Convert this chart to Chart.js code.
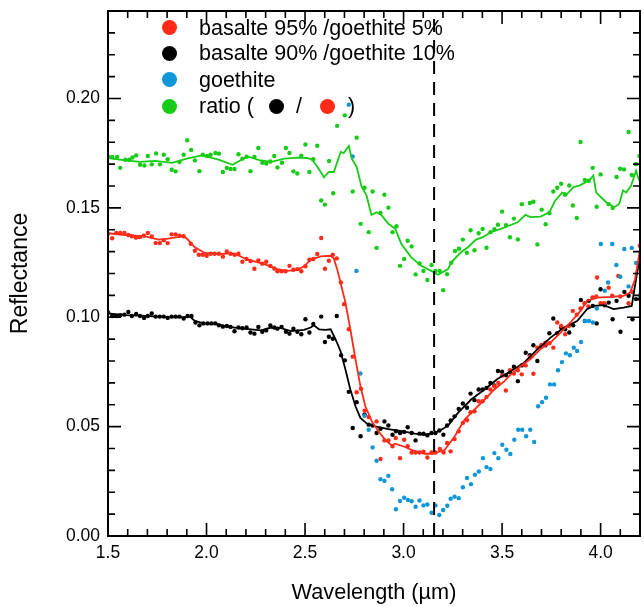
<!DOCTYPE html>
<html>
<head>
<meta charset="utf-8">
<script src="https://cdn.jsdelivr.net/npm/chart.js@4.4.1/dist/chart.umd.min.js"></script>
<style>
  body { margin: 0; background: #fff; }
  #wrap { position: relative; width: 644px; height: 606px; }
  #legend { position: absolute; left: 0; top: 0; font-family: "Liberation Sans", Arial, Helvetica, sans-serif; font-size: 21.5px; color: #000; }
  .row { position: absolute; left: 199px; white-space: nowrap; line-height: 26px; height: 26px; }
  .dot { position: absolute; width: 15px; height: 15px; border-radius: 50%; }
</style>
</head>
<body>
<div id="wrap">
  <canvas id="chart"></canvas>
  <div id="legend">
    <span class="dot" style="left:162px; top:20px; background:#ff2a17"></span>
    <span class="row" style="top:15px">basalte 95% /goethite 5%</span>
    <span class="dot" style="left:162px; top:46px; background:#000"></span>
    <span class="row" style="top:40px">basalte 90% /goethite 10%</span>
    <span class="dot" style="left:162px; top:72px; background:#0f96d8"></span>
    <span class="row" style="top:67px">goethite</span>
    <span class="dot" style="left:162px; top:99px; background:#16cc16"></span>
    <span class="row" style="top:93px">ratio (</span>
    <span class="dot" style="left:269px; top:99px; background:#000"></span>
    <span class="row" style="top:93px; left:296px">/</span>
    <span class="dot" style="left:320px; top:99px; background:#ff2a17"></span>
    <span class="row" style="top:93px; left:348px">)</span>
  </div>
</div>
<script>
// [wavelength (um), reflectance]
const redDots = [[1.500,0.1382],[1.521,0.1361],[1.542,0.1385],[1.562,0.1385],[1.583,0.1385],[1.603,0.1376],[1.621,0.137],[1.642,0.1364],[1.662,0.1367],[1.682,0.1373],[1.702,0.1385],[1.722,0.1369],[1.742,0.1339],[1.763,0.1339],[1.783,0.1352],[1.803,0.1339],[1.823,0.1379],[1.843,0.1379],[1.863,0.1373],[1.884,0.137],[1.920,0.1336],[1.941,0.1304],[1.961,0.1286],[1.981,0.1286],[2.001,0.1281],[2.021,0.129],[2.041,0.129],[2.063,0.129],[2.083,0.1277],[2.103,0.1301],[2.122,0.129],[2.142,0.1286],[2.162,0.129],[2.182,0.1254],[2.203,0.1266],[2.223,0.1257],[2.243,0.1222],[2.263,0.126],[2.283,0.1245],[2.303,0.1254],[2.324,0.1234],[2.344,0.1223],[2.360,0.121],[2.381,0.121],[2.401,0.121],[2.421,0.1235],[2.441,0.1217],[2.461,0.122],[2.481,0.121],[2.502,0.1233],[2.522,0.1263],[2.542,0.1266],[2.562,0.1289],[2.582,0.1362],[2.601,0.1222],[2.621,0.1258],[2.641,0.1286],[2.661,0.1269],[2.682,0.1159],[2.698,0.106],[2.722,0.0945],[2.742,0.082],[2.762,0.0657],[2.784,0.0673],[2.802,0.0573],[2.823,0.0544],[2.863,0.0524],[2.883,0.0352],[2.903,0.0437],[2.923,0.0437],[2.944,0.041],[2.960,0.0448],[2.982,0.0356],[3.003,0.044],[3.021,0.041],[3.041,0.0382],[3.061,0.0382],[3.081,0.0382],[3.101,0.0385],[3.121,0.0359],[3.142,0.0382],[3.162,0.0382],[3.184,0.0398],[3.203,0.0382],[3.221,0.0425],[3.239,0.0387],[3.259,0.0443],[3.280,0.0479],[3.301,0.0517],[3.322,0.0529],[3.340,0.0566],[3.360,0.057],[3.381,0.0616],[3.401,0.0616],[3.421,0.0636],[3.441,0.067],[3.461,0.0685],[3.481,0.07],[3.501,0.0734],[3.519,0.0665],[3.540,0.0758],[3.560,0.0743],[3.580,0.0758],[3.600,0.0739],[3.620,0.078],[3.641,0.082],[3.659,0.0742],[3.679,0.0861],[3.700,0.0873],[3.720,0.0884],[3.740,0.0881],[3.760,0.0861],[3.780,0.0976],[3.800,0.096],[3.820,0.0922],[3.839,0.096],[3.859,0.1029],[3.879,0.1012],[3.898,0.104],[3.918,0.1064],[3.938,0.1049],[3.959,0.109],[3.978,0.1095],[3.982,0.1182],[4.000,0.1064],[4.018,0.1064],[4.041,0.1135],[4.059,0.1098],[4.090,0.1189],[4.100,0.1095],[4.142,0.1064],[4.163,0.1116],[4.199,0.1327]];
const redLine = [[1.500,0.1384],[1.588,0.1376],[1.689,0.137],[1.756,0.1355],[1.798,0.1358],[1.874,0.137],[1.899,0.1361],[1.941,0.132],[1.991,0.1294],[2.058,0.1289],[2.126,0.1292],[2.159,0.1284],[2.209,0.1263],[2.293,0.1243],[2.360,0.122],[2.411,0.1212],[2.461,0.1217],[2.495,0.1233],[2.529,0.1263],[2.579,0.1278],[2.630,0.1281],[2.646,0.1269],[2.663,0.122],[2.680,0.1159],[2.705,0.1067],[2.730,0.0945],[2.756,0.0807],[2.781,0.0685],[2.806,0.0593],[2.839,0.0524],[2.873,0.0478],[2.907,0.044],[2.940,0.0414],[2.957,0.0422],[3.008,0.0407],[3.058,0.0387],[3.108,0.0376],[3.150,0.0376],[3.209,0.0394],[3.260,0.0456],[3.310,0.0532],[3.360,0.0578],[3.411,0.0624],[3.461,0.067],[3.512,0.0708],[3.545,0.0739],[3.595,0.0777],[3.646,0.081],[3.696,0.0856],[3.746,0.0884],[3.797,0.093],[3.847,0.0976],[3.898,0.1029],[3.931,0.1075],[3.981,0.109],[4.049,0.1093],[4.116,0.1098],[4.150,0.1113],[4.175,0.1174],[4.192,0.1266],[4.200,0.1312]];

const blackDots = [[1.500,0.1022],[1.521,0.1006],[1.541,0.1006],[1.562,0.1009],[1.583,0.1012],[1.603,0.1024],[1.621,0.1006],[1.643,0.1015],[1.663,0.1006],[1.683,0.0997],[1.702,0.1006],[1.722,0.1017],[1.742,0.1003],[1.763,0.1003],[1.783,0.1003],[1.803,0.0997],[1.823,0.1003],[1.843,0.1003],[1.863,0.1003],[1.884,0.0994],[1.904,0.1006],[1.924,0.1006],[1.944,0.0976],[1.964,0.0963],[1.984,0.0972],[2.005,0.0972],[2.025,0.0972],[2.045,0.0972],[2.063,0.0963],[2.083,0.0957],[2.103,0.096],[2.122,0.0956],[2.142,0.0936],[2.162,0.0953],[2.182,0.095],[2.203,0.0953],[2.223,0.093],[2.243,0.0925],[2.263,0.0956],[2.283,0.0934],[2.303,0.094],[2.324,0.0963],[2.344,0.0953],[2.360,0.0948],[2.381,0.0956],[2.403,0.0934],[2.421,0.0925],[2.441,0.0948],[2.461,0.0934],[2.481,0.0922],[2.502,0.0991],[2.522,0.093],[2.542,0.0969],[2.582,0.1003],[2.601,0.0887],[2.621,0.0911],[2.641,0.0902],[2.661,0.1006],[2.683,0.0826],[2.702,0.0803],[2.722,0.0659],[2.742,0.0494],[2.762,0.0612],[2.782,0.0456],[2.802,0.0555],[2.823,0.0509],[2.843,0.0505],[2.863,0.0471],[2.883,0.049],[2.903,0.0524],[2.923,0.0505],[2.944,0.0463],[2.962,0.0479],[2.982,0.0471],[3.003,0.0476],[3.021,0.0497],[3.041,0.0471],[3.061,0.0437],[3.081,0.0468],[3.101,0.0468],[3.121,0.046],[3.142,0.0471],[3.162,0.0471],[3.182,0.0482],[3.202,0.0463],[3.221,0.0505],[3.239,0.0528],[3.259,0.0547],[3.280,0.0581],[3.301,0.0606],[3.322,0.0586],[3.340,0.0651],[3.360,0.0621],[3.381,0.067],[3.401,0.067],[3.421,0.0677],[3.441,0.07],[3.461,0.0688],[3.479,0.0754],[3.500,0.0751],[3.520,0.0735],[3.540,0.0749],[3.560,0.0774],[3.580,0.0708],[3.600,0.078],[3.620,0.0838],[3.641,0.0826],[3.659,0.0872],[3.679,0.08],[3.700,0.0866],[3.720,0.0872],[3.740,0.0927],[3.760,0.0994],[3.780,0.0927],[3.800,0.0953],[3.820,0.0945],[3.841,0.093],[3.861,0.0963],[3.900,0.1079],[3.920,0.0983],[3.940,0.1075],[3.960,0.1052],[3.980,0.0972],[4.000,0.1128],[4.021,0.1055],[4.041,0.1067],[4.061,0.0991],[4.081,0.1075],[4.101,0.0934],[4.121,0.1116],[4.142,0.1098],[4.162,0.0991],[4.180,0.1083],[4.200,0.1083]];
const blackLine = [[1.500,0.1018],[1.588,0.101],[1.689,0.1006],[1.789,0.1001],[1.874,0.0999],[1.915,0.1003],[1.941,0.0983],[1.991,0.0971],[2.041,0.0972],[2.108,0.0957],[2.159,0.095],[2.226,0.0945],[2.277,0.094],[2.327,0.0953],[2.378,0.095],[2.428,0.0937],[2.495,0.0942],[2.529,0.0953],[2.545,0.0963],[2.571,0.0945],[2.604,0.0942],[2.630,0.0945],[2.655,0.0899],[2.680,0.0846],[2.705,0.0761],[2.730,0.067],[2.756,0.0593],[2.781,0.054],[2.814,0.0514],[2.856,0.0501],[2.923,0.0489],[2.990,0.0479],[3.058,0.0468],[3.108,0.0463],[3.159,0.0471],[3.192,0.0486],[3.226,0.0505],[3.276,0.0563],[3.343,0.0624],[3.411,0.067],[3.478,0.0719],[3.545,0.0754],[3.612,0.0792],[3.679,0.0853],[3.746,0.0907],[3.814,0.0953],[3.881,0.0983],[3.931,0.1037],[3.965,0.1052],[4.016,0.1055],[4.066,0.1037],[4.116,0.1044],[4.158,0.1052],[4.183,0.119],[4.200,0.1274]];

const goethiteDots = [[2.722,0.1972],[2.742,0.1735],[2.761,0.1212],[2.781,0.0743],[2.802,0.055],[2.823,0.0486],[2.843,0.0405],[2.863,0.0344],[2.883,0.026],[2.903,0.0252],[2.923,0.0275],[2.942,0.0214],[2.961,0.0122],[2.982,0.016],[3.003,0.0175],[3.022,0.0165],[3.041,0.0159],[3.061,0.0134],[3.081,0.0162],[3.101,0.014],[3.121,0.0144],[3.142,0.0106],[3.162,0.014],[3.181,0.0096],[3.201,0.0119],[3.222,0.0138],[3.239,0.017],[3.259,0.018],[3.280,0.0173],[3.301,0.0223],[3.322,0.0265],[3.342,0.0237],[3.362,0.028],[3.382,0.0295],[3.403,0.0356],[3.421,0.0315],[3.441,0.0306],[3.461,0.0379],[3.481,0.0356],[3.501,0.0417],[3.522,0.0394],[3.542,0.0375],[3.562,0.044],[3.582,0.0486],[3.602,0.0486],[3.622,0.0456],[3.643,0.0486],[3.663,0.043],[3.683,0.0593],[3.703,0.0612],[3.723,0.0632],[3.743,0.0693],[3.764,0.0693],[3.784,0.0758],[3.804,0.0795],[3.824,0.0835],[3.844,0.0826],[3.864,0.0861],[3.881,0.0846],[3.901,0.0887],[3.921,0.0983],[3.941,0.0983],[3.961,0.0976],[3.981,0.104],[4.001,0.1335],[4.021,0.1121],[4.038,0.1159],[4.059,0.1335],[4.080,0.1239],[4.100,0.1185],[4.120,0.1312],[4.142,0.1141],[4.158,0.1317],[4.180,0.1248],[4.199,0.1101]];

const ratioDots = [[1.500,0.1735],[1.521,0.1733],[1.546,0.1733],[1.562,0.1683],[1.588,0.172],[1.608,0.172],[1.624,0.173],[1.643,0.174],[1.663,0.1697],[1.685,0.1694],[1.702,0.1737],[1.722,0.1699],[1.744,0.1749],[1.764,0.1699],[1.783,0.1743],[1.803,0.1722],[1.823,0.1674],[1.843,0.1667],[1.863,0.171],[1.884,0.1743],[1.902,0.1809],[1.922,0.1765],[1.941,0.1717],[1.964,0.1668],[1.981,0.1743],[2.003,0.1737],[2.021,0.1743],[2.045,0.1751],[2.063,0.1748],[2.083,0.1664],[2.103,0.1682],[2.122,0.1678],[2.142,0.1678],[2.162,0.1745],[2.182,0.1725],[2.203,0.1734],[2.223,0.1668],[2.243,0.1733],[2.263,0.1774],[2.283,0.1706],[2.303,0.1703],[2.324,0.1712],[2.344,0.1737],[2.360,0.1685],[2.383,0.1706],[2.403,0.1774],[2.421,0.1751],[2.441,0.1667],[2.461,0.1657],[2.481,0.1739],[2.502,0.179],[2.522,0.1664],[2.542,0.1722],[2.562,0.1784],[2.582,0.1534],[2.601,0.1515],[2.622,0.1714],[2.643,0.1567],[2.663,0.1875],[2.702,0.1923],[2.742,0.1575],[2.762,0.1821],[2.782,0.1427],[2.802,0.1592],[2.823,0.1389],[2.843,0.1575],[2.863,0.1317],[2.883,0.1477],[2.903,0.156],[2.923,0.1501],[2.944,0.1389],[2.964,0.1416],[2.982,0.1235],[3.003,0.1266],[3.021,0.135],[3.041,0.1324],[3.061,0.1196],[3.081,0.1246],[3.101,0.1212],[3.121,0.117],[3.142,0.1239],[3.162,0.1212],[3.184,0.1212],[3.201,0.1124],[3.221,0.1197],[3.242,0.1249],[3.261,0.1303],[3.281,0.1313],[3.301,0.1355],[3.321,0.1295],[3.340,0.1398],[3.360,0.1306],[3.381,0.1384],[3.401,0.1404],[3.421,0.1318],[3.441,0.1389],[3.461,0.1402],[3.479,0.1423],[3.500,0.1483],[3.520,0.1421],[3.540,0.1366],[3.560,0.1451],[3.580,0.1356],[3.600,0.1517],[3.641,0.1522],[3.659,0.1528],[3.679,0.1333],[3.701,0.1492],[3.721,0.1425],[3.740,0.1476],[3.760,0.1575],[3.780,0.1592],[3.800,0.161],[3.820,0.156],[3.841,0.1602],[3.859,0.1511],[3.879,0.1454],[3.898,0.1801],[3.920,0.1628],[3.940,0.1624],[3.960,0.1683],[3.980,0.1505],[4.000,0.1653],[4.041,0.1517],[4.061,0.15],[4.081,0.1641],[4.099,0.1679],[4.119,0.1676],[4.142,0.1847],[4.158,0.165],[4.180,0.17],[4.197,0.1737]];
const ratioLine = [[1.500,0.1728],[1.588,0.1717],[1.663,0.171],[1.739,0.1715],[1.825,0.1706],[1.900,0.1725],[1.976,0.174],[2.057,0.1722],[2.132,0.1697],[2.208,0.1735],[2.268,0.1718],[2.329,0.171],[2.395,0.1725],[2.460,0.173],[2.510,0.1728],[2.535,0.172],[2.561,0.169],[2.596,0.164],[2.621,0.1664],[2.646,0.1664],[2.681,0.1756],[2.696,0.175],[2.722,0.1783],[2.737,0.1725],[2.762,0.1687],[2.787,0.1597],[2.812,0.1557],[2.837,0.1468],[2.863,0.148],[2.888,0.1467],[2.923,0.1427],[2.958,0.1404],[2.989,0.1335],[3.039,0.1274],[3.090,0.1235],[3.140,0.1212],[3.175,0.1194],[3.226,0.122],[3.241,0.125],[3.291,0.1297],[3.327,0.132],[3.367,0.1355],[3.402,0.1366],[3.443,0.1389],[3.493,0.1404],[3.528,0.1416],[3.579,0.1434],[3.619,0.1468],[3.644,0.1458],[3.695,0.146],[3.740,0.148],[3.770,0.1534],[3.805,0.157],[3.830,0.1563],[3.862,0.1595],[3.892,0.1602],[3.942,0.1625],[3.963,0.1648],[3.978,0.157],[4.028,0.1526],[4.069,0.1503],[4.094,0.1518],[4.114,0.158],[4.130,0.157],[4.155,0.1602],[4.180,0.167],[4.195,0.1625]];

const bandCenter = 3.155;
const xMin = 1.5, xMax = 4.2, xStep = 0.1;
const yMin = 0, yMax = 0.24, yStep = 0.01;

const RED = "#ff2a17", BLACK = "#000000", BLUE = "#0f96d8", GREEN = "#16cc16";

function pts(arr) { return arr.map(p => ({x: p[0], y: p[1]})); }

function dots(arr, color, order) {
    return {data: pts(arr), showLine: false, pointRadius: 2.2, pointBorderWidth: 0,
            pointBackgroundColor: color, borderColor: color, order: order};
}
function line(arr, color, order) {
    return {data: pts(arr), showLine: true, pointRadius: 0, borderColor: color,
            borderWidth: 1.8, tension: 0, order: order};
}

// inward ticks on all four sides plus the frame
const frameTicks = {
    id: "frameTicks",
    afterDatasetsDraw(chart) {
        const {ctx, chartArea: a, scales: {x, y}} = chart;
        ctx.save();
        ctx.strokeStyle = "#000";
        ctx.lineWidth = 1.6;
        ctx.beginPath();
        x.ticks.forEach(t => {
            const px = x.getPixelForValue(t.value);
            const len = t.label ? 13 : 7;
            ctx.moveTo(px, a.bottom); ctx.lineTo(px, a.bottom - len);
            ctx.moveTo(px, a.top); ctx.lineTo(px, a.top + len);
        });
        y.ticks.forEach(t => {
            const py = y.getPixelForValue(t.value);
            const len = t.label ? 13 : 7;
            ctx.moveTo(a.left, py); ctx.lineTo(a.left + len, py);
            ctx.moveTo(a.right, py); ctx.lineTo(a.right - len, py);
        });
        ctx.stroke();
        ctx.lineWidth = 2;
        ctx.strokeRect(a.left, a.top, a.right - a.left, a.bottom - a.top);
        ctx.restore();
    }
};

const font = "'Liberation Sans', Arial, Helvetica, sans-serif";

new Chart(document.getElementById("chart"), {
    type: "scatter",
    data: {
        datasets: [
            line(ratioLine, GREEN, 1),
            line(redLine, RED, 2),
            line(blackLine, BLACK, 3),
            dots(ratioDots, GREEN, 4),
            dots(goethiteDots, BLUE, 5),
            dots(redDots, RED, 6),
            dots(blackDots, BLACK, 7),
            {data: [{x: bandCenter, y: yMin}, {x: bandCenter, y: yMax}], showLine: true,
             pointRadius: 0, borderColor: "#000", borderWidth: 2, borderDash: [13, 8], order: 0}
        ]
    },
    options: {
        responsive: true,
        maintainAspectRatio: false,
        animation: false,
        devicePixelRatio: 1,
        layout: {padding: {top: 11, right: 2, left: 0, bottom: 0}},
        plugins: {legend: {display: false}, tooltip: {enabled: false}},
        scales: {
            x: {
                type: "linear", min: xMin, max: xMax,
                grid: {display: false, drawTicks: false},
                border: {display: false},
                afterFit: s => { s.height = 70; s.paddingLeft = 0; s.paddingRight = 0; },
                ticks: {
                    stepSize: xStep, autoSkip: false, maxRotation: 0, padding: 7,
                    color: "#000", font: {family: font, size: 17.5},
                    callback: v => (Math.round(v * 10) % 5 === 0 ? v.toFixed(1) : "")
                },
                title: {display: true, text: "Wavelength (µm)", color: "#000",
                        font: {family: font, size: 21.7}, padding: {top: 0, bottom: 0}}
            },
            y: {
                type: "linear", min: yMin, max: yMax,
                grid: {display: false, drawTicks: false},
                border: {display: false},
                afterFit: s => { s.width = 108; s.paddingTop = 0; s.paddingBottom = 0; },
                ticks: {
                    stepSize: yStep, autoSkip: false, padding: 8,
                    color: "#000", font: {family: font, size: 17.5},
                    callback: v => (Math.round(v * 100) % 5 === 0 ? v.toFixed(2) : "")
                },
                title: {display: true, text: "Reflectance", color: "#000",
                        font: {family: font, size: 23}, padding: {top: 7, bottom: 0}}
            }
        }
    },
    plugins: [frameTicks]
});
</script>
</body>
</html>
